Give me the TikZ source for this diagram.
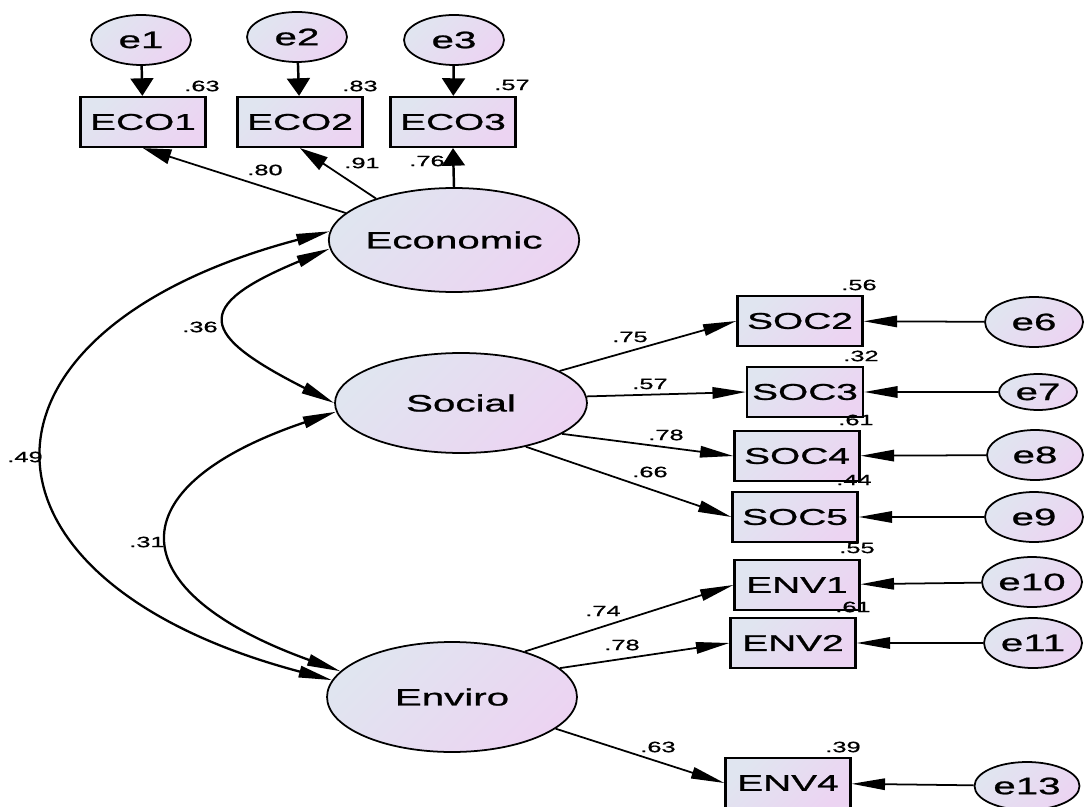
\documentclass[tikz,border=0pt]{standalone}
\usepackage{fontspec}
\newfontfamily\amosfont[FakeStretch=1.7, FakeBold=1]{Liberation Sans}
\usepackage{tikz}
\usetikzlibrary{arrows.meta, shapes.geometric}
\definecolor{amosblue}{RGB}{224,229,240}
\definecolor{amospink}{RGB}{236,212,242}
\tikzset{
  shadedfill/.style={top color=amosblue, bottom color=amospink, shading angle=45},
  hpath/.style={-{Triangle[length=19pt, width=6.5pt]}, line width=1pt},
  vpath/.style={-{Triangle[length=10pt, width=13pt]}, line width=1.4pt},
  dpath/.style={-{Triangle[length=16pt, width=8.5pt]}, line width=1pt},
  cov/.style={{Triangle[length=19pt, width=6.5pt]}-{Triangle[length=19pt, width=6.5pt]}, line width=1.3pt}
}

\begin{document}
\begin{tikzpicture}[
  x=0.02cm, y=-0.02cm,
  latent/.style={draw, ellipse, shadedfill, line width=1pt, inner sep=0pt,
                 minimum width=5cm, minimum height=2.08cm,
                 font=\amosfont\fontsize{13.5}{16}\selectfont},
  errterm/.style={latent, minimum width=2cm, minimum height=1cm,
                  font=\amosfont\fontsize{13.5}{15}\selectfont},
  indicator/.style={draw, rectangle, shadedfill, line width=1.3pt, inner sep=0pt,
                    minimum width=2.5cm, minimum height=1cm,
                    font=\amosfont\fontsize{13}{15}\selectfont},
  coef/.style={font=\amosfont\fontsize{8.5}{9}\selectfont, inner sep=0pt},
]
\useasboundingbox (0,0) rectangle (1084,807);

% Latent factors
\node[latent] (eco) at (454,240) {Economic};
\node[latent, minimum width=5.04cm, minimum height=2cm] (soc) at (461,403) {Social};
\node[latent, minimum height=2.2cm] (env) at (452,697) {Enviro};

% Economic indicators and errors
\node[indicator] (eco1) at (143,122) {ECO1};
\node[indicator] (eco2) at (300,122) {ECO2};
\node[indicator] (eco3) at (453,122) {ECO3};
\node[errterm] (e1) at (141,40) {e1};
\node[errterm] (e2) at (297,37) {e2};
\node[errterm] (e3) at (454,40) {e3};

% Social indicators and errors
\node[indicator] (soc2) at (800,321) {SOC2};
\node[indicator, minimum width=2.32cm] (soc3) at (805,392) {SOC3};
\node[indicator] (soc4) at (797,456) {SOC4};
\node[indicator] (soc5) at (795,517) {SOC5};
\node[errterm, minimum width=1.96cm] (e6) at (1034,322) {e6};
\node[errterm, minimum width=1.56cm, minimum height=0.72cm] (e7) at (1038,392) {e7};
\node[errterm, minimum width=1.92cm] (e8) at (1035,455) {e8};
\node[errterm, minimum width=1.96cm] (e9) at (1034,517) {e9};

% Environmental indicators and errors
\node[indicator] (env1) at (797,585) {ENV1};
\node[indicator] (env2) at (793,643) {ENV2};
\node[indicator] (env4) at (788,783) {ENV4};
\node[errterm] (e10) at (1032,582) {e10};
\node[errterm, minimum width=1.96cm] (e11) at (1033,643) {e11};
\node[errterm, minimum width=2.1cm, minimum height=0.96cm] (e13) at (1027,786) {e13};

% Squared multiple correlations
\node[coef] (r1) at (202,86) {.63};
\node[coef] (r2) at (360,86) {.83};
\node[coef] (r3) at (512,85) {.57};
\node[coef] (r6) at (859,285) {.56};
\node[coef] (r7) at (861,356) {.32};
\node[coef] (r8) at (856,420) {.61};
\node[coef] (r9) at (854,480) {.44};
\node[coef] (r10) at (857,548) {.55};
\node[coef] (r11) at (853,607) {.61};
\node[coef] (r13) at (843,747) {.39};

% Error paths
\draw[vpath] (e1) -- (eco1);
\draw[vpath] (e2) -- (eco2);
\draw[vpath] (e3) -- (eco3);
\draw[hpath] (e6) -- (soc2);
\draw[hpath] (e7) -- (soc3);
\draw[hpath] (e8) -- (soc4);
\draw[hpath] (e9) -- (soc5);
\draw[hpath] (e10) -- (env1);
\draw[hpath] (e11) -- (env2);
\draw[hpath] (e13) -- (env4);

% Factor loadings
\draw[dpath] (eco.166) -- (eco1.south);
\draw[dpath] (eco.152) -- (eco2.south);
\draw[vpath] (eco.north) -- (eco3.south);
\draw[hpath] (soc.18) -- (soc2.west);
\draw[hpath] (soc.3) -- (soc3.west);
\draw[hpath] (soc.-17) -- (soc4.west);
\draw[hpath] (soc.-34) -- (soc5.west);
\draw[hpath] (env.32) -- (env1.west);
\draw[hpath] (env.15) -- (env2.west);
\draw[hpath] (env.-17) -- (env4.west);

\node[coef] (w1) at (265,170) {.80};
\node[coef] (w2) at (362,163) {.91};
\node[coef] (w3) at (427,161) {.76};
\node[coef] (w6) at (630,337) {.75};
\node[coef] (w7) at (650,384) {.57};
\node[coef] (w8) at (666,435) {.78};
\node[coef] (w9) at (650,472) {.66};
\node[coef] (w10) at (603,611) {.74};
\node[coef] (w11) at (622,645) {.78};
\node[coef] (w13) at (658,747) {.63};

% Factor covariances
\draw[cov] (eco.176) .. controls +(-378,100) and +(-378,-100) .. (env.172);
\draw[cov] (eco.184) .. controls +(-140,58) and +(-134,-68) .. (soc.180);
\draw[cov] (soc.184) .. controls +(-222,75) and +(-222,-80) .. (env.167);
\node[coef] (c1) at (25,457) {.49};
\node[coef] (c2) at (200,327) {.36};
\node[coef] (c3) at (147,542) {.31};

\end{tikzpicture}
\end{document}
